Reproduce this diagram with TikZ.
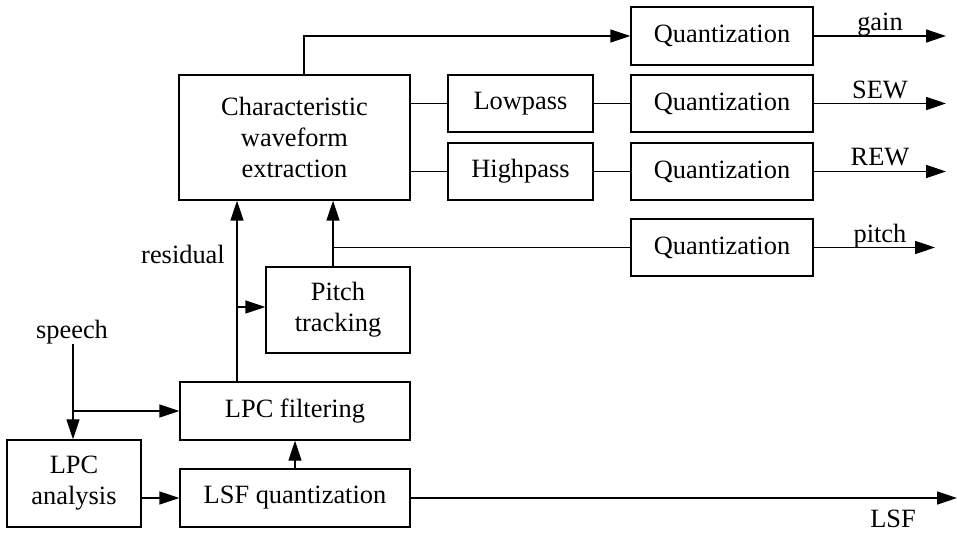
\documentclass[tikz,border=0pt]{standalone}
\usepackage{fontspec}
\setmainfont{Liberation Serif}
\usetikzlibrary{arrows.meta,calc}
\tikzset{
  % block: plain rectangle, text centred
  blk/.style={draw, rectangle, inner sep=0pt, align=center, line width=0.7pt,
              font=\fontsize{13.2}{15.5}\selectfont},
  qbox/.style={blk, minimum width=91pt, minimum height=28.5pt},
  fltbox/.style={blk, minimum width=72.5pt, minimum height=28.5pt},
  widebox/.style={blk, minimum width=115pt, minimum height=29pt},
  % connectors
  flowarr/.style={-{Triangle[length=10pt,width=6.5pt]}, line width=0.7pt},
  flowline/.style={line width=0.7pt},
  % signal labels
  sig/.style={inner sep=0pt, font=\fontsize{13.2}{15.5}\selectfont}
}
\begin{document}
\begin{tikzpicture}[x=0.5pt, y=-0.5pt]
\useasboundingbox (0,0) rectangle (957,533);

% Analysis blocks
\node[blk, minimum width=115.5pt, minimum height=62.5pt] (cwe) at (294.5,137.5)
  {Characteristic\\waveform\\extraction};
\node[fltbox] (lowp) at (520.5,103.5) {Lowpass};
\node[fltbox] (highp) at (520.5,171.5) {Highpass};
\node[blk, minimum width=72pt, minimum height=43pt] (ptrack) at (338,310) {Pitch\\tracking};
\node[widebox] (lpcf) at (295,411) {LPC filtering};
\node[widebox] (lsfq) at (295,498) {LSF quantization};
\node[blk, minimum width=67pt, minimum height=43.5pt] (lpca) at (74,483.5) {LPC\\analysis};

% Quantizers
\node[qbox, minimum height=29pt] (qgain) at (722,36) {Quantization};
\node[qbox] (qsew) at (722,103.5) {Quantization};
\node[qbox] (qrew) at (722,171.5) {Quantization};
\node[qbox] (qpitch) at (722,247.5) {Quantization};

% Output ends
\coordinate (ogain) at (946,36);
\coordinate (osew) at (946,103.5);
\coordinate (orew) at (946,171.5);
\coordinate (opitch) at (935,247.5);
\coordinate (olsf) at (957,498);

% Labels
\node[sig, anchor=base] (lgain) at (880,31) {gain};
\node[sig, anchor=base] (lsew) at (880,99) {SEW};
\node[sig, anchor=base] (lrew) at (880,166) {REW};
\node[sig, anchor=base] (lpitch) at (880,243) {pitch};
\node[sig] (llsf) at (893,519) {LSF};
\node[sig] (lres) at (183,254) {residual};
\node[sig] (speech) at (72,332) {speech};

% Connectors
\draw[flowarr] ($(cwe.north)+(9.5,0)$) |- (qgain.west);
\draw[flowline] (cwe.east |- lowp) -- (lowp.west);
\draw[flowline] (cwe.east |- highp) -- (highp.west);
\draw[flowline] (lowp.east) -- (qsew.west);
\draw[flowline] (highp.east) -- (qrew.west);
\draw[flowarr] (qgain.east) -- (ogain);
\draw[flowarr] (qsew.east) -- (osew);
\draw[flowarr] (qrew.east) -- (orew);
\draw[flowarr] (qpitch.east) -- (opitch);

% residual path and pitch path
\draw[flowarr] (lpcf.north -| 237,0) -- (cwe.south -| 237,0);
\draw[flowarr] (237,307) -- (ptrack.west |- 0,307);
\draw[flowarr] (ptrack.north -| 333,0) -- (cwe.south -| 333,0);
\draw[flowline] (333,247.5) -- (qpitch.west);

% speech input
\draw[flowarr] (speech.south -| 73,0) -- (lpca.north -| 73,0);
\draw[flowarr] (73,411) -- (lpcf.west);
\draw[flowarr] (lpca.east |- lsfq) -- (lsfq.west);
\draw[flowarr] (lsfq.north) -- (lpcf.south);
\draw[flowarr] (lsfq.east) -- (olsf);

\end{tikzpicture}
\end{document}
